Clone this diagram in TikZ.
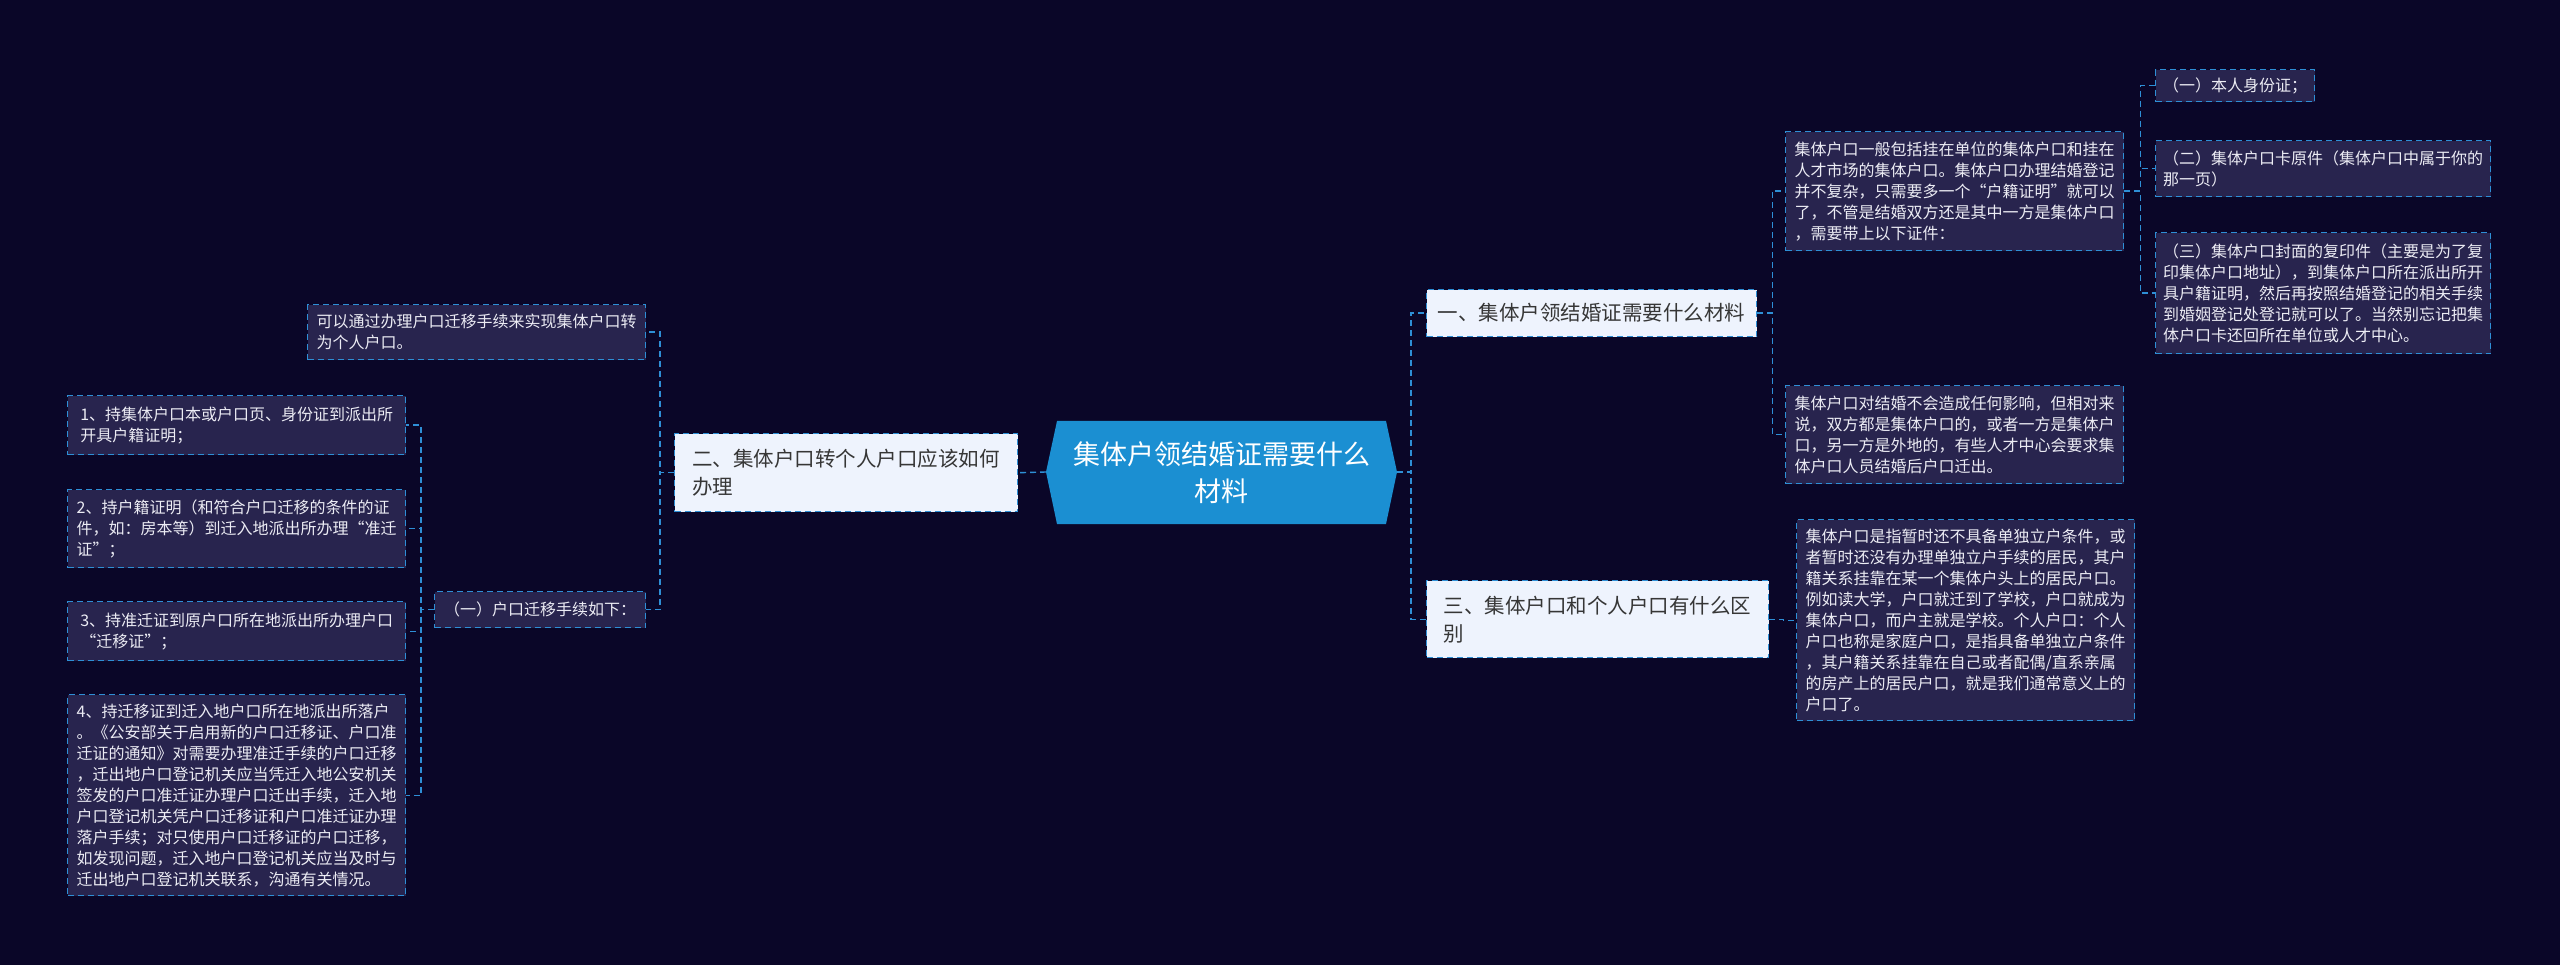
\documentclass[tikz,border=0pt]{standalone}
\usepackage{fontspec}
\newfontfamily\cjk{Noto Sans CJK SC}
\definecolor{bgc}{HTML}{0A0628}
\definecolor{boxc}{HTML}{28244E}
\definecolor{linec}{HTML}{2E8FD6}
\definecolor{txtc}{HTML}{ECECF4}
\definecolor{lightc}{HTML}{EEF3FD}
\definecolor{darktxt}{HTML}{363636}
\definecolor{rootc}{HTML}{1B8FD2}
\begin{document}
\begin{tikzpicture}[x=1pt,y=-1pt,
  conn/.style={draw=linec, line width=1.4pt, dash pattern=on 6pt off 4pt},
  darkbox/.style={draw=linec, line width=1.4pt, dash pattern=on 6pt off 4pt, fill=boxc, text=txtc,
    font=\cjk\fontsize{16}{21}\selectfont, align=left, inner xsep=7pt, inner ysep=3pt, anchor=north west},
  lightbox/.style={draw=linec, line width=1.4pt, dash pattern=on 6pt off 4pt, fill=lightc, text=darktxt,
    font=\cjk\fontsize{20.5}{28}\selectfont, align=left, inner xsep=8pt, inner ysep=3pt, anchor=north west}]
\useasboundingbox (0,0) rectangle (2560,965);
\fill[bgc] (0,0) rectangle (2560,965);

% root
\fill[rootc] (1046,472) -- (1057,421) -- (1386,421) -- (1397,472) -- (1386,524) -- (1057,524) -- cycle;
\node[text=white, font=\cjk\fontsize{27}{37}\selectfont, align=center] (root) at (1221.5,472.5) {集体户领结婚证需要什么\\材料};
\coordinate (rootL) at (1046,472);
\coordinate (rootR) at (1397,472);

% branches
\node[lightbox, minimum width=330pt, minimum height=47pt] (b1) at (1426,289) {一、集体户领结婚证需要什么材料};
\node[lightbox, minimum width=342pt, minimum height=77pt] (b3) at (1426,580) {三、集体户口和个人户口有什么区\\别};
\node[lightbox, minimum width=343pt, minimum height=78pt] (b2) at (674,433) {二、集体户口转个人户口应该如何\\办理};

% right side leaves
\node[darkbox, minimum width=338pt, minimum height=119pt] (a1) at (1785,131) {集体户口一般包括挂在单位的集体户口和挂在\\人才市场的集体户口。集体户口办理结婚登记\\并不复杂，只需要多一个“户籍证明”就可以\\了，不管是结婚双方还是其中一方是集体户口\\，需要带上以下证件：};
\node[darkbox, minimum width=338pt, minimum height=98pt] (a2) at (1785,385) {集体户口对结婚不会造成任何影响，但相对来\\说，双方都是集体户口的，或者一方是集体户\\口，另一方是外地的，有些人才中心会要求集\\体户口人员结婚后户口迁出。};
\node[darkbox, minimum width=159pt, minimum height=32pt] (s1) at (2155,69) {（一）本人身份证；};
\node[darkbox, minimum width=335pt, minimum height=56pt] (s2) at (2155,140) {（二）集体户口卡原件（集体户口中属于你的\\那一页）};
\node[darkbox, minimum width=335pt, minimum height=121pt] (s3) at (2155,232) {（三）集体户口封面的复印件（主要是为了复\\印集体户口地址），到集体户口所在派出所开\\具户籍证明，然后再按照结婚登记的相关手续\\到婚姻登记处登记就可以了。当然别忘记把集\\体户口卡还回所在单位或人才中心。};
\node[darkbox, minimum width=338pt, minimum height=201pt] (c1) at (1796,519) {集体户口是指暂时还不具备单独立户条件，或\\者暂时还没有办理单独立户手续的居民，其户\\籍关系挂靠在某一个集体户头上的居民户口。\\例如读大学，户口就迁到了学校，户口就成为\\集体户口，而户主就是学校。个人户口：个人\\户口也称是家庭户口，是指具备单独立户条件\\，其户籍关系挂靠在自己或者配偶/直系亲属\\的房产上的居民户口，就是我们通常意义上的\\户口了。};

% left side
\node[darkbox, minimum width=338pt, minimum height=55pt] (l1) at (307,304) {可以通过办理户口迁移手续来实现集体户口转\\为个人户口。};
\node[darkbox, minimum width=211pt, minimum height=36pt] (l2) at (434,591) {（一）户口迁移手续如下：};
\node[darkbox, minimum width=338pt, minimum height=59pt] (p1) at (67,395) {1、持集体户口本或户口页、身份证到派出所\\开具户籍证明；};
\node[darkbox, minimum width=338pt, minimum height=78pt] (p2) at (67,489) {2、持户籍证明（和符合户口迁移的条件的证\\件，如：房本等）到迁入地派出所办理“准迁\\证”；};
\node[darkbox, minimum width=338pt, minimum height=59pt] (p3) at (67,601) {3、持准迁证到原户口所在地派出所办理户口\\“迁移证”；};
\node[darkbox, minimum width=338pt, minimum height=201pt] (p4) at (67,694) {4、持迁移证到迁入地户口所在地派出所落户\\。《公安部关于启用新的户口迁移证、户口准\\迁证的通知》对需要办理准迁手续的户口迁移\\，迁出地户口登记机关应当凭迁入地公安机关\\签发的户口准迁证办理户口迁出手续，迁入地\\户口登记机关凭户口迁移证和户口准迁证办理\\落户手续；对只使用户口迁移证的户口迁移，\\如发现问题，迁入地户口登记机关应当及时与\\迁出地户口登记机关联系，沟通有关情况。};

% connectors
\draw[conn] (rootR) -- ([xshift=14pt]rootR) |- (b1.west);
\draw[conn] (rootR) -- ([xshift=14pt]rootR) |- (b3.west);
\draw[conn] (rootL) -- (b2.east);
\draw[conn] (b1.east) -- ([xshift=15pt]b1.east) |- (a1.west);
\draw[conn] (b1.east) -- ([xshift=15pt]b1.east) |- (a2.west);
\draw[conn] (a1.east) -- ([xshift=16pt]a1.east) |- (s1.west);
\draw[conn] (a1.east) -- ([xshift=16pt]a1.east) |- (s2.west);
\draw[conn] (a1.east) -- ([xshift=16pt]a1.east) |- (s3.west);
\draw[conn] (b3.east) -- ([xshift=14pt]b3.east) |- (c1.west);
\draw[conn] (b2.west) -- ([xshift=-14pt]b2.west) |- (l1.east);
\draw[conn] (b2.west) -- ([xshift=-14pt]b2.west) |- (l2.east);
\draw[conn] (l2.west) -- ([xshift=-13pt]l2.west) |- (p1.east);
\draw[conn] (l2.west) -- ([xshift=-13pt]l2.west) |- (p2.east);
\draw[conn] (l2.west) -- ([xshift=-13pt]l2.west) |- (p3.east);
\draw[conn] (l2.west) -- ([xshift=-13pt]l2.west) |- (p4.east);
\end{tikzpicture}
\end{document}
